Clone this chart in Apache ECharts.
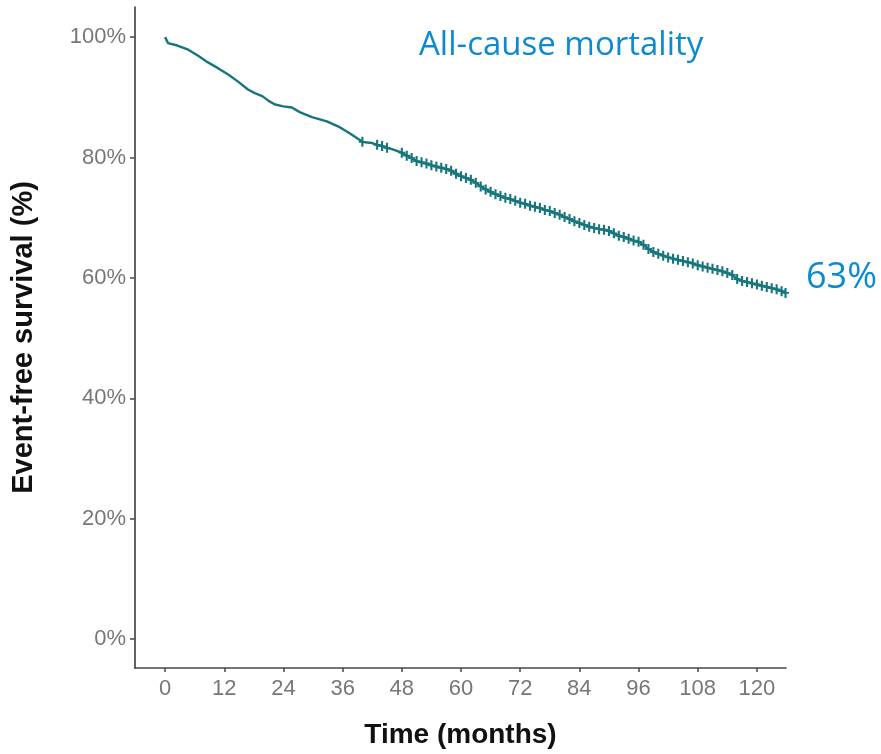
<!DOCTYPE html>
<html>
<head>
<meta charset="utf-8">
<script src="https://cdn.jsdelivr.net/npm/echarts@6/dist/echarts.min.js"></script>
<style>
  html, body { margin: 0; padding: 0; background: #ffffff; }
  #chart { width: 881px; height: 754px; }
</style>
</head>
<body>
<div id="chart"></div>
<script>
// Kaplan-Meier estimate: follow-up time (months) and event-free survival (%)
const months = [
  0, 0.6, 2.5, 4.7, 6.7, 8.7, 10.8, 12.8, 14.8, 16.8, 18.2, 19.7, 21.0, 22.3, 24.0,
  25.7, 27.4, 29.8, 32.8, 35.5, 37.5,
  40, 41, 42, 43, 44, 45, 46, 47, 48, 49, 50, 51, 52, 53, 54, 55, 56, 57, 58, 59,
  60, 61, 62, 63, 64, 65, 66, 67, 68, 69, 70, 71, 72, 73, 74, 75, 76, 77, 78, 79,
  80, 81, 82, 83, 84, 85, 86, 87, 88, 89, 90, 91, 92, 93, 94, 95, 96, 97, 98, 99,
  100, 101, 102, 103, 104, 105, 106, 107, 108, 109, 110, 111, 112, 113, 114, 115,
  116, 117, 118, 119, 120, 121, 122, 123, 124, 125, 125.8
];
const survival = [
  100, 99.0, 98.6, 97.9, 96.9, 95.8, 94.8, 93.8, 92.6, 91.3, 90.7, 90.2, 89.4, 88.8, 88.5,
  88.3, 87.5, 86.7, 86.0, 85.0, 84.0,
  82.6, 82.5, 82.4, 82.1, 81.9, 81.6, 81.4, 81.1, 80.8, 80.3, 79.9, 79.4, 79.2, 79.0, 78.7, 78.5, 78.3, 78.1, 77.8, 77.3,
  76.9, 76.6, 76.3, 75.8, 75.2, 74.7, 74.3, 73.9, 73.6, 73.3, 73.1, 72.8, 72.5, 72.3, 72.0, 71.8, 71.6, 71.3, 71.1, 70.8,
  70.5, 70.1, 69.8, 69.4, 69.1, 68.8, 68.5, 68.3, 68.1, 68.0, 67.8, 67.4, 67.0, 66.8, 66.5, 66.2, 66.0, 65.5, 64.8, 64.3,
  64.0, 63.7, 63.4, 63.2, 63.0, 62.8, 62.6, 62.4, 62.1, 61.9, 61.7, 61.5, 61.3, 61.1, 60.8, 60.5,
  59.8, 59.5, 59.3, 59.1, 58.9, 58.7, 58.5, 58.3, 58.1, 57.8, 57.5
];
// Censoring marks: a few isolated ones, then one at every point from 48 months on
const sparseCensor = [40, 43, 44, 45];
const denseCensorFrom = 48;

const xTicks = [0, 12, 24, 36, 48, 60, 72, 84, 96, 108, 120];
const yTicks = [0, 20, 40, 60, 80, 100];

const titleText = 'All-cause mortality';
const endLabelText = '63%';

const curveColor = '#17767c';
const accent = '#0b8ad0';
const plusPath = 'path://M-0.9,-5H0.9V-0.9H3V0.9H0.9V5H-0.9V0.9H-3V-0.9H-0.9Z';

const isCensored = m => m >= denseCensorFrom || sparseCensor.indexOf(m) >= 0;

const chart = echarts.init(document.getElementById('chart'), null, { renderer: 'canvas' });

const labelFont = 'Liberation Sans, Arial, sans-serif';
const tickLabel = { color: '#777777', fontFamily: labelFont, fontSize: 22 };
const axisLine = { show: true, onZero: false, lineStyle: { color: '#474747', width: 1.7 } };
const tickStyle = { color: '#474747', width: 1.5 };

chart.setOption({
  animation: false,
  backgroundColor: '#ffffff',
  grid: { left: 135, right: 95, top: 7, bottom: 83, containLabel: false },
  xAxis: {
    type: 'value',
    min: -6.1,
    max: 125.9,
    axisLine: axisLine,
    axisTick: { show: true, customValues: xTicks, length: 4, lineStyle: tickStyle },
    axisLabel: Object.assign({ customValues: xTicks, margin: 10 }, tickLabel),
    splitLine: { show: false },
    name: 'Time (months)',
    nameLocation: 'middle',
    nameGap: 53,
    nameTextStyle: { color: '#111111', fontFamily: labelFont, fontWeight: 'bold', fontSize: 28 }
  },
  yAxis: {
    type: 'value',
    min: -4.8,
    max: 105,
    axisLine: axisLine,
    axisTick: { show: true, customValues: yTicks, length: 5, lineStyle: tickStyle },
    axisLabel: Object.assign({ customValues: yTicks, margin: 9, formatter: v => v + '%' }, tickLabel),
    splitLine: { show: false },
    name: 'Event-free survival (%)',
    nameLocation: 'middle',
    nameGap: 97,
    nameTextStyle: { color: '#111111', fontFamily: labelFont, fontWeight: 'bold', fontSize: 29 }
  },
  graphic: [
    {
      type: 'text',
      style: { x: 419, y: 46, text: titleText, fill: accent, verticalAlign: 'middle', font: '33px "Open Sans", sans-serif' }
    },
    {
      type: 'text',
      style: { x: 806, y: 278, text: endLabelText, fill: accent, verticalAlign: 'middle', font: '36px "Open Sans", sans-serif' }
    }
  ],
  series: [{
    type: 'line',
    data: months.map((m, i) => [m, survival[i]]),
    showSymbol: true,
    showAllSymbol: true,
    symbol: v => (isCensored(v[0]) ? plusPath : 'none'),
    symbolSize: [7, 10],
    itemStyle: { color: curveColor },
    lineStyle: { color: curveColor, width: 2.4 },
    emphasis: { disabled: true },
    silent: true
  }]
});
</script>
</body>
</html>
